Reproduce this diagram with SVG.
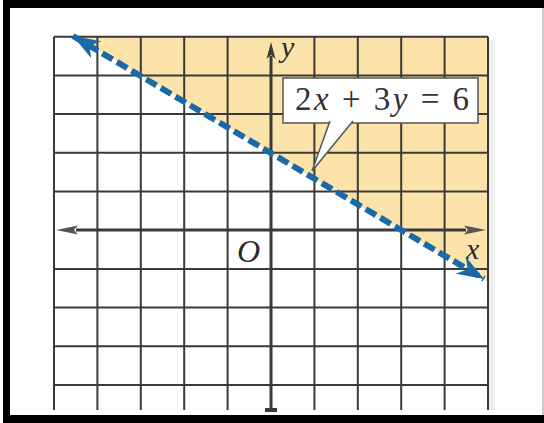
<svg xmlns="http://www.w3.org/2000/svg" width="544" height="423" viewBox="0 0 544 423">
  <style>
    .grid { stroke: #3a3a3a; stroke-width: 2; fill: none; }
    .axis { stroke: #3a3a3a; stroke-width: 3; fill: none; }
    .lbl { font-family: "Liberation Serif", "Times New Roman", serif; font-style: italic; fill: #2a2a2a; }
    .eq { font-family: "Liberation Serif", "Times New Roman", serif; fill: #333333; }
  </style>
  <defs>
    <marker id="bluehead" markerUnits="userSpaceOnUse" markerWidth="32" markerHeight="26" viewBox="-28 -13 32 26" refX="0" refY="0" orient="auto-start-reverse">
      <path d="M0,0 L-27,-10 L-19,0 L-27,10 Z" fill="#1a6aaa"/>
    </marker>
  </defs>
  <rect x="0" y="0" width="544" height="423" fill="#ffffff"/>
  <g id="frame">
    <rect x="3" y="0" width="541" height="8" fill="#000"/>
    <rect x="3" y="0" width="7" height="423" fill="#000"/>
    <rect x="3" y="415" width="541" height="8" fill="#000"/>
    <line x1="543" y1="8" x2="543" y2="415" stroke="#bdbdbd" stroke-width="1.5"/>
  </g>
  <rect x="489" y="40" width="6" height="370" fill="#eeeeee"/>
  <polygon id="shade" points="75.7,36.7 488,36.7 488,281.8" fill="#fce3aa"/>
  <g id="grid" class="grid">
    <path d="M54,36.7 V410 M97.4,36.7 V410 M140.8,36.7 V410 M184.2,36.7 V410 M227.6,36.7 V410 M314.4,36.7 V410 M357.8,36.7 V410 M401.2,36.7 V410 M444.6,36.7 V410 M488,36.7 V410"/>
    <path d="M54,36.7 H488 M54,75.4 H488 M54,114.1 H488 M54,152.8 H488 M54,191.5 H488 M54,268.9 H488 M54,307.6 H488 M54,346.3 H488 M54,385 H488"/>
  </g>
  <g id="axes">
    <line class="axis" x1="76" y1="230" x2="466" y2="230" stroke="#4a4a4a"/>
    <path d="M56,230 L78,225.5 L74,230 L78,234.5 Z" fill="#555"/>
    <path d="M486,230 L464,225.5 L468,230 L464,234.5 Z" fill="#555"/>
    <line class="axis" x1="271" y1="56" x2="271" y2="410"/>
    <path d="M271,42 L266.5,59 L271,55 L275.5,59 Z" fill="#3a3a3a"/>
    <rect x="265" y="408" width="12" height="4" fill="#3a3a3a"/>
  </g>
  <g id="axis-labels">
    <text class="lbl" x="281" y="57" font-size="30">y</text>
    <text class="lbl" x="466" y="259" font-size="30">x</text>
    <text class="lbl" x="237" y="262" font-size="32">O</text>
  </g>
  <g id="connectors">
    <line x1="73" y1="36" x2="484" y2="279" stroke="#1a6aaa" stroke-width="6" stroke-dasharray="12 5" marker-start="url(#bluehead)" marker-end="url(#bluehead)"/>
  </g>
  <g id="label">
    <rect x="283" y="78" width="195" height="45" fill="#ffffff" stroke="#555" stroke-width="1.5"/>
    <path d="M330,121 L312,171 L353,121" fill="#ffffff" stroke="#555" stroke-width="1.5"/>
    <text class="eq" x="295" y="110" font-size="33" textLength="174" lengthAdjust="spacing">2<tspan font-style="italic">x</tspan> + 3<tspan font-style="italic">y</tspan> = 6</text>
  </g>
</svg>
